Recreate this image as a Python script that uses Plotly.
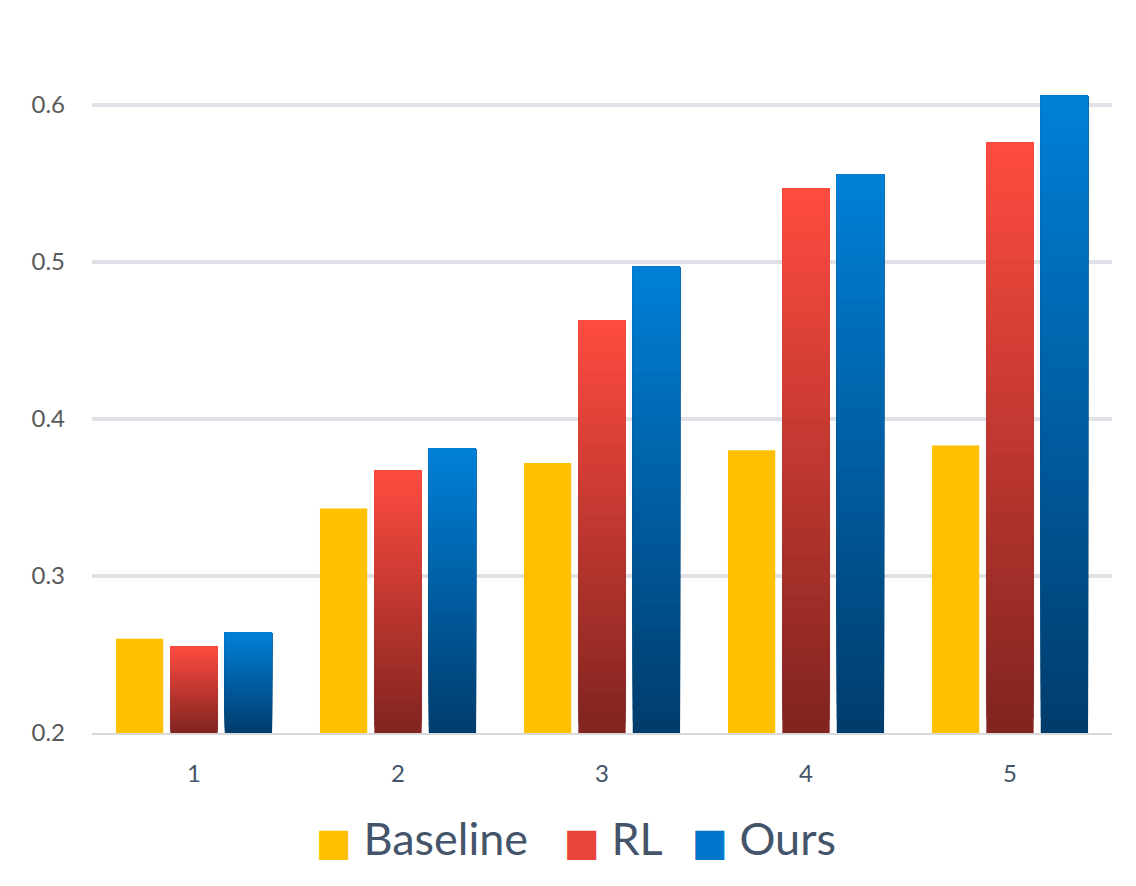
import plotly.graph_objects as go

categories = ["1", "2", "3", "4", "5"]
baseline = [0.260, 0.343, 0.372, 0.380, 0.383]
rl = [0.255, 0.367, 0.463, 0.547, 0.576]
ours = [0.264, 0.381, 0.497, 0.556, 0.606]
series_names = ["Baseline", "RL", "Ours"]
y_min = 0.2

# (bottom colour, top colour) for gradient fills
grad = {
    "Baseline": ((255, 192, 0), (255, 192, 0)),
    "RL": ((128, 36, 32), (255, 75, 64)),
    "Ours": ((0, 60, 108), (0, 128, 216)),
}
legend_col = {"Baseline": "#FFC000", "RL": "#E8443A", "Ours": "#0077CC"}
legend_ids = {"Baseline": "legend", "RL": "legend2", "Ours": "legend3"}
legend_x = {"Baseline": 318, "RL": 566, "Ours": 694}

FONT = "Lato, 'DejaVu Sans', sans-serif"
K = 40

fig = go.Figure()
for name, vals in zip(series_names, [baseline, rl, ours]):
    c0, c1 = grad[name]
    steps = 1 if c0 == c1 else K
    for k in range(steps):
        f = k / steps
        col = tuple(round(c0[i] + (c1[i] - c0[i]) * (k + 0.5) / steps) for i in range(3))
        bases = [y_min + (v - y_min) * f for v in vals]
        heights = [v - b for v, b in zip(vals, bases)]
        fig.add_trace(go.Bar(
            x=categories, y=heights, base=bases,
            offsetgroup=name, legendgroup=name, showlegend=False,
            marker=dict(color="rgb(%d,%d,%d)" % col, line=dict(width=0)),
            hovertemplate=name + ": %{customdata}<extra></extra>",
            customdata=vals,
        ))
    # legend entry
    fig.add_trace(go.Bar(
        x=[None], y=[None], legendgroup=name, showlegend=True,
        legend=legend_ids[name],
        name='<span style="color:%s;font-size:38px">■</span> %s' % (legend_col[name], name),
        marker=dict(color="rgba(0,0,0,0)", line=dict(width=0)),
    ))

legend_common = dict(
    orientation="h", xref="container", yref="container",
    xanchor="left", y=0.054, yanchor="middle",
    font=dict(size=45, color="#44546A", family=FONT),
    itemwidth=30, itemclick=False, itemdoubleclick=False,
    bgcolor="rgba(0,0,0,0)",
)

fig.update_layout(
    width=1136, height=886,
    margin=dict(l=92, r=24, t=42, b=153),
    plot_bgcolor="white", paper_bgcolor="white",
    barmode="group", bargap=0.2, bargroupgap=0.13,
    font=dict(family=FONT),
    showlegend=True,
    legend=dict(x=(legend_x["Baseline"] - 42) / 1136, **legend_common),
    legend2=dict(x=(legend_x["RL"] - 42) / 1136, **legend_common),
    legend3=dict(x=(legend_x["Ours"] - 42) / 1136, **legend_common),
    xaxis=dict(
        type="category", showgrid=False, showline=True,
        linecolor="#D9D9D9", linewidth=2, ticks="",
        tickfont=dict(size=24, color="#44546A"),
        ticklabelstandoff=18,
    ),
    yaxis=dict(
        range=[y_min, 0.64], tick0=0.2, dtick=0.1, tickformat=".1f",
        showgrid=True, gridcolor="#DEE2E7", gridwidth=4,
        zeroline=False, showline=False, ticks="",
        tickfont=dict(size=24, color="#595959"),
        ticklabelstandoff=26,
    ),
)

fig.write_html("out.html")
